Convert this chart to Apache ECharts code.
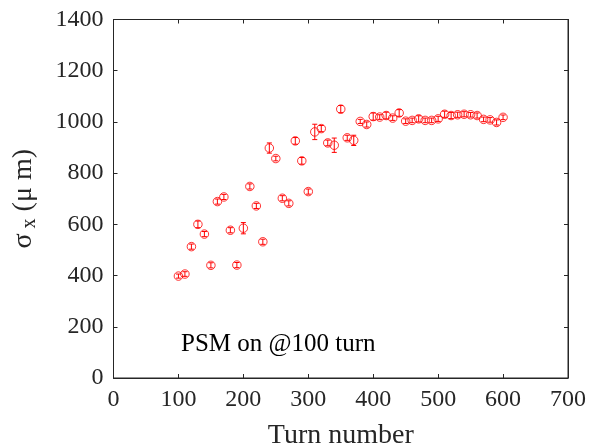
<!DOCTYPE html>
<html><head><meta charset="utf-8">
<script src="https://cdn.jsdelivr.net/npm/echarts@6/dist/echarts.min.js"></script>
<style>html,body{margin:0;padding:0;background:#fff}#c{width:592px;height:447px}</style>
</head><body><div id="c"></div>
<script>
const turns = [100,110,120,130,140,150,160,170,180,190,200,210,220,230,240,250,260,270,280,290,300,310,320,330,340,350,360,370,380,390,400,410,420,430,440,450,460,470,480,490,500,510,520,530,540,550,560,570,580,590,600];
const sigmaX = [398,406,513,600,562,440,689,707,577,441,585,748,672,532,898,857,702,682,926,848,728,961,974,918,909,1050,938,928,1002,990,1021,1019,1025,1015,1035,1003,1006,1012,1006,1006,1012,1030,1025,1028,1030,1028,1025,1010,1008,998,1018];
const sigmaErr = [8,9,10,13,10,10,10,10,10,10,22,10,10,10,20,9,10,10,13,13,10,30,12,11,28,14,10,20,8,10,14,9,13,9,13,9,9,12,9,9,10,12,12,10,10,9,10,9,9,10,9];
const xTicks = [0,100,200,300,400,500,600,700];
const yTicks = [0,200,400,600,800,1000,1200,1400];
const annotation = 'PSM on @100 turn';

const pts = turns.map((t,i)=>[t, sigmaX[i]]);
const errData = turns.map((t,i)=>[t, sigmaX[i]-sigmaErr[i], sigmaX[i]+sigmaErr[i]]);
const font = 'Liberation Serif';
const red = '#ff0000';
const txt = '#262626';

const chart = echarts.init(document.getElementById('c'), null, {renderer:'canvas'});
const axisCommon = {
  axisLine:{show:true, onZero:false, lineStyle:{color:txt, width:1}},
  axisTick:{show:true, inside:true, length:4, lineStyle:{color:txt}},
  splitLine:{show:false},
};
chart.setOption({
  animation:false,
  backgroundColor:'#fff',
  grid:{left:113.5, top:19.5, right:24, bottom:69, containLabel:false, outerBoundsMode:'none', show:true, borderColor:txt, borderWidth:1},
  xAxis:[{
    type:'value', min:xTicks[0], max:xTicks[xTicks.length-1], interval:100,
    ...axisCommon,
    axisLabel:{color:txt, fontFamily:font, fontSize:24, margin:10, formatter:v=>String(v)},
    name:'Turn number', nameLocation:'middle', nameGap:44,
    nameTextStyle:{color:txt, fontFamily:font, fontSize:28}
  },{
    type:'value', position:'top', min:xTicks[0], max:xTicks[xTicks.length-1], interval:100,
    ...axisCommon, axisLabel:{show:false}
  }],
  yAxis:[{
    type:'value', min:yTicks[0], max:yTicks[yTicks.length-1], interval:200,
    ...axisCommon,
    axisLabel:{color:txt, fontFamily:font, fontSize:24, margin:10, formatter:v=>String(v)},
    name:'{s|σ}{sub| x}{s| (μ m)}', nameLocation:'middle', nameGap:74, nameRotate:90,
    nameTextStyle:{color:txt, fontFamily:font, fontSize:28,
      rich:{s:{fontFamily:font, fontSize:28, color:txt}, sub:{fontFamily:font, fontSize:20, color:txt, padding:[12,0,0,0]}}}
  },{
    type:'value', position:'right', min:yTicks[0], max:yTicks[yTicks.length-1], interval:200,
    ...axisCommon, axisLabel:{show:false}
  }],
  series:[{
    type:'custom',
    data:errData,
    encode:{x:0, y:[1,2]},
    renderItem:function(params, api){
      const x = api.value(0);
      const lo = api.coord([x, api.value(1)]);
      const hi = api.coord([x, api.value(2)]);
      const cw = 2.5;
      const style = {stroke:red, lineWidth:1, fill:null};
      return {type:'group', children:[
        {type:'line', shape:{x1:lo[0], y1:lo[1], x2:hi[0], y2:hi[1]}, style},
        {type:'line', shape:{x1:lo[0]-cw, y1:lo[1], x2:lo[0]+cw, y2:lo[1]}, style},
        {type:'line', shape:{x1:hi[0]-cw, y1:hi[1], x2:hi[0]+cw, y2:hi[1]}, style}
      ]};
    },
    z:2
  },{
    type:'scatter',
    data:pts,
    symbol:'circle',
    symbolSize:8.5,
    itemStyle:{color:'rgba(0,0,0,0)', borderColor:red, borderWidth:1},
    z:3
  }],
  graphic:[{
    type:'text', left:181, top:332,
    style:{text:annotation, fontFamily:font, fontSize:25, fill:'#000'}
  }]
});
</script></body></html>
